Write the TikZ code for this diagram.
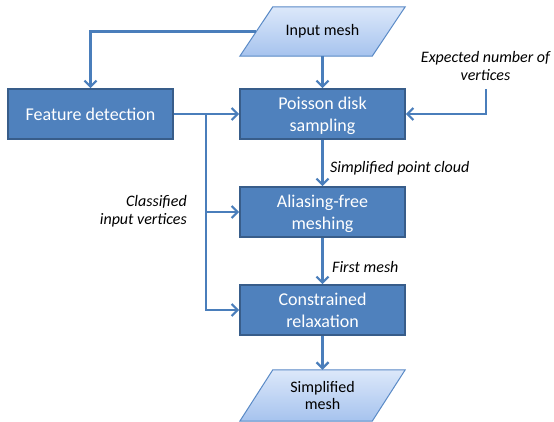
\documentclass[tikz,border=0pt]{standalone}
\usepackage{fontspec}
\setmainfont{Carlito}
\usetikzlibrary{arrows.meta,backgrounds}
\definecolor{boxfill}{HTML}{4F81BD}
\definecolor{boxline}{HTML}{385D8A}
\definecolor{lineblue}{HTML}{4A7EBB}
\definecolor{paratop}{HTML}{DCE8FA}
\definecolor{parabot}{HTML}{A6C3EE}
\definecolor{paraline}{HTML}{5A8AC6}
\begin{document}
\begin{tikzpicture}[x=1pt,y=-1pt,
  procbox/.style={draw=boxline, line width=1.6pt, fill=boxfill, text=white,
    minimum width=165pt, minimum height=50pt, inner sep=0pt, align=center,
    font=\fontsize{18}{22}\selectfont},
  twoline/.style={text depth=-2pt},
  iobox/.style={minimum width=165pt, inner sep=0pt, align=center,
    font=\fontsize{16}{17.5}\selectfont},
  paraface/.style={draw=paraline, line width=1pt, top color=paratop, bottom color=parabot},
  lab/.style={font=\itshape\fontsize{16}{18}\selectfont, inner sep=0pt},
  flow/.style={draw=lineblue, line width=2.2pt, -{Straight Barb[length=6pt,width=12pt]}}
]
\useasboundingbox (0,0) rectangle (554,422);

\node[iobox, minimum height=49pt] (inmesh) at (322.5,31.5) {Input mesh};
\node[procbox] (feat) at (90.5,114) {Feature detection};
\node[procbox, twoline] (pois) at (322.5,114) {Poisson disk\\sampling};
\node[procbox, twoline] (alias) at (322.5,212) {Aliasing-free\\meshing};
\node[procbox, twoline] (constr) at (322.5,310) {Constrained\\relaxation};
\node[iobox, minimum height=51pt] (simp) at (322.5,395.5) {Simplified\\mesh};

\begin{pgfonlayer}{background}
\path[paraface] ([xshift=33pt]inmesh.north west) -- (inmesh.north east)
  -- ([xshift=-33pt]inmesh.south east) -- (inmesh.south west) -- cycle;
\path[paraface] ([xshift=33pt]simp.north west) -- (simp.north east)
  -- ([xshift=-33pt]simp.south east) -- (simp.south west) -- cycle;
\end{pgfonlayer}

\node[lab, align=center] (expect) at (485.5,66) {Expected number of\\vertices};
\node[lab, anchor=west] (spc) at (330,168) {Simplified point cloud};
\node[lab, anchor=west] (fm) at (332,267) {First mesh};
\node[lab, anchor=east, align=right] (civ) at (187,211.5) {Classified\\input vertices};

\coordinate (j) at (206,114);
\coordinate (ein) at (486,89);

\draw[flow] ([xshift=16.5pt]inmesh.west) -| (feat.north);
\draw[flow] (inmesh.south) -- (pois.north);
\draw[flow] (feat.east) -- (pois.west);
\draw[flow] (ein) |- (pois.east);
\draw[flow] (j) |- (constr.west);
\draw[flow] (j |- alias.west) -- (alias.west);
\draw[flow] (pois.south) -- (alias.north);
\draw[flow] (alias.south) -- (constr.north);
\draw[flow] (constr.south) -- (simp.north);
\end{tikzpicture}
\end{document}
